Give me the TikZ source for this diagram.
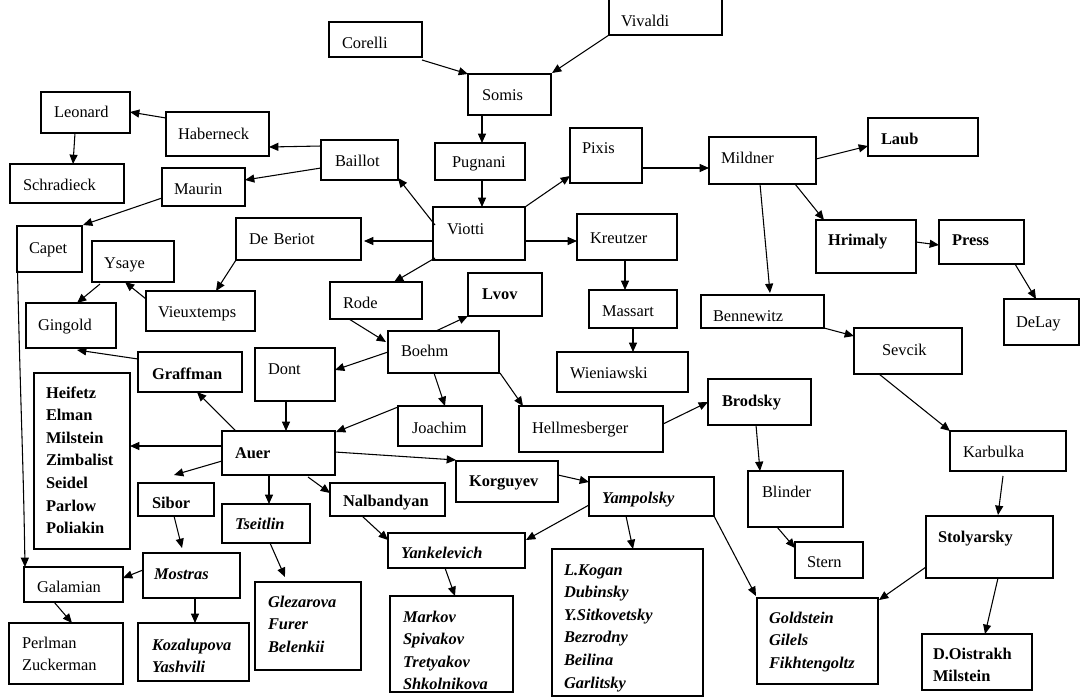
\documentclass[tikz,border=0pt]{standalone}
\usepackage{fontspec}
\setmainfont{Liberation Serif}
\usetikzlibrary{arrows.meta,calc}
\tikzset{
  box/.style={draw, line width=0.9pt, inner ysep=0pt, outer sep=0pt, align=left,
    minimum width=0pt, minimum height=0pt, font=\fontsize{12.3}{16.95}\selectfont},
  bf/.style={font=\fontsize{12.3}{16.95}\selectfont\bfseries},
  bi/.style={font=\fontsize{12.3}{16.95}\selectfont\bfseries\itshape},
  arr/.style={line width=0.8pt, -{Triangle[length=7pt,width=6pt]}}
}
% #1 style, #2 name, #3 x1, #4 y1, #5 x2, #6 y2, #7 text x, #8 first baseline, #9 text
\newcommand\bx[9][]{%
  \pgfmathsetlengthmacro\bxpad{((#7)-(#3))*0.75}%
  \pgfmathsetlengthmacro\bxtw{((#5)-(#3)-2*((#7)-(#3)))*0.75}%
  \pgfmathsetlengthmacro\bxth{((#8)-(#4))*0.75}%
  \pgfmathsetlengthmacro\bxtd{((#6)-(#8))*0.75}%
  \expandafter\def\csname bxx@#2\endcsname{#3}%
  \expandafter\def\csname bxy@#2\endcsname{#4}%
  \node[box,#1,anchor=north west,inner xsep=\bxpad,text width=\bxtw,
        text height=\bxth,text depth=\bxtd] (#2) at (#3,#4) {#9};%
}
% arrow from node #1 at pixel (#2,#3) to node #4 at pixel (#5,#6)
\newcommand\ar[6]{%
  \pgfmathsetmacro\arax{(#2)-(\csname bxx@#1\endcsname)}%
  \pgfmathsetmacro\aray{(#3)-(\csname bxy@#1\endcsname)}%
  \pgfmathsetmacro\arbx{(#5)-(\csname bxx@#4\endcsname)}%
  \pgfmathsetmacro\arby{(#6)-(\csname bxy@#4\endcsname)}%
  \draw[arr] ($(#1.north west)+(\arax,\aray)$) -- ($(#4.north west)+(\arbx,\arby)$);%
}
\begin{document}
\begin{tikzpicture}[x=0.75pt,y=-0.75pt]
\useasboundingbox (0,0) rectangle (1081,697);
% ---------- boxes ----------
\bx{corelli}{329}{22}{422}{57}{342}{48}{Corelli}
\bx{vivaldi}{609}{-10}{722}{35}{621}{26}{Vivaldi}
\bx{somis}{468}{74}{551}{115}{482}{100}{Somis}
\bx{pugnani}{435}{143}{525}{180}{452}{167}{Pugnani}
\bx{baillot}{321}{140}{398}{180}{335}{166}{Baillot}
\bx{pixis}{570}{128}{642}{183}{582}{153}{Pixis}
\bx{mildner}{709}{137}{816}{184}{721}{163}{Mildner}
\bx[bf]{laub}{868}{118}{978}{156}{881}{144}{Laub}
\bx{viotti}{433}{207}{525}{260}{447}{234}{Viotti}
\bx{deberiot}{236}{218}{361}{260}{249}{244}{De Beriot}
\bx{kreutzer}{577}{214}{677}{260}{590}{243}{Kreutzer}
\bx{leonard}{41}{92}{130}{133}{54}{117}{Leonard}
\bx{haberneck}{166}{112}{269}{156}{178}{139}{Haberneck}
\bx{schradieck}{10}{164}{124}{203}{23}{190}{Schradieck}
\bx{maurin}{162}{168}{245}{206}{174}{194}{Maurin}
\bx{capet}{17}{226}{82}{272}{29}{253}{Capet}
\bx{ysaye}{92}{241}{174}{282}{104}{268}{Ysaye}
\bx{vieuxtemps}{146}{291}{255}{331}{158}{317}{Vieuxtemps}
\bx{gingold}{26}{303}{116}{348}{38}{330}{Gingold}
\bx{rode}{330}{282}{422}{319}{343}{308}{Rode}
\bx[bf]{lvov}{468}{273}{542}{316}{482}{299}{Lvov}
\bx{massart}{589}{290}{677}{328}{602}{316}{Massart}
\bx{bennewitz}{701}{295}{824}{328}{713}{321}{Bennewitz}
\bx{boehm}{388}{331}{499}{373}{401}{356}{Boehm}
\bx{wieniawski}{557}{352}{688}{392}{570}{378}{Wieniawski}
\bx{sevcik}{854}{328}{962}{374}{882}{355}{Sevcik}
\bx[bf]{hrimaly}{816}{220}{916}{273}{828}{245}{Hrimaly}
\bx[bf]{press}{939}{220}{1024}{264}{952}{245}{Press}
\bx{delay}{1004}{299}{1079}{345}{1016}{327}{DeLay}
\bx[bf]{graffman}{138}{352}{242}{392}{152}{379}{Graffman}
\bx{dont}{255}{348}{335}{401}{268}{374}{Dont}
\bx[bf]{heifetz}{34}{373}{130}{549}{46}{398}{Heifetz\\Elman\\Milstein\\Zimbalist\\Seidel\\Parlow\\Poliakin}
\bx[bf]{auer}{222}{431}{335}{475}{235}{458}{Auer}
\bx{joachim}{398}{406}{482}{446}{412}{433}{Joachim}
\bx{hellmes}{519}{406}{663}{452}{532}{433}{Hellmesberger}
\bx[bf]{brodsky}{708}{379}{811}{425}{722}{406}{Brodsky}
\bx{karbulka}{950}{431}{1066}{471}{963}{457}{Karbulka}
\bx{blinder}{748}{471}{843}{527}{762}{497}{Blinder}
\bx{stern}{795}{542}{863}{578}{807}{567}{Stern}
\bx[bf]{stolyarsky}{926}{516}{1053}{578}{938}{542}{Stolyarsky}
\bx[bf]{sibor}{138}{483}{214}{516}{152}{508}{Sibor}
\bx[bi]{tseitlin}{222}{504}{310}{543}{235}{529}{Tseitlin}
\bx[bf]{nalbandyan}{330}{483}{445}{516}{343}{506}{Nalbandyan}
\bx[bf]{korguyev}{456}{461}{558}{502}{469}{486}{Korguyev}
\bx[bi]{yampolsky}{589}{477}{714}{516}{602}{503}{Yampolsky}
\bx[bi]{yankelevich}{388}{533}{525}{568}{401}{558}{Yankelevich}
\bx[bi]{mostras}{143}{553}{240}{598}{154}{579}{Mostras}
\bx{galamian}{24}{567}{123}{602}{37}{592}{Galamian}
\bx{perlman}{9}{623}{123}{684}{22}{648}{Perlman\\Zuckerman}
\bx[bi]{kozalupova}{138}{623}{249}{681}{152}{650}{Kozalupova\\Yashvili}
\bx[bi]{glezarova}{255}{582}{361}{670}{268}{607}{Glezarova\\Furer\\Belenkii}
\bx[bi]{markov}{390}{596}{513}{692}{403}{622}{Markov\\Spivakov\\Tretyakov\\Shkolnikova}
\bx[bi]{lkogan}{552}{549}{703}{696}{564}{575}{L.Kogan\\Dubinsky\\Y.Sitkovetsky\\Bezrodny\\Beilina\\Garlitsky}
\bx[bi]{goldstein}{757}{598}{878}{684}{769}{623}{Goldstein\\Gilels\\Fikhtengoltz}
\bx[bf]{oistrakh}{922}{634}{1032}{690}{933}{659}{D.Oistrakh\\Milstein}
% ---------- arrows ----------
\ar{corelli}{422}{60}{somis}{468}{74}
\ar{vivaldi}{609}{35}{somis}{552}{73}
\ar{somis}{482}{115}{pugnani}{482}{143}
\ar{pugnani}{482}{180}{viotti}{482}{207}
\ar{viotti}{435}{225}{baillot}{398}{178}
\ar{viotti}{525}{207}{pixis}{570}{176}
\ar{pixis}{642}{168}{mildner}{709}{168}
\ar{mildner}{816}{159}{laub}{868}{146}
\ar{mildner}{795}{184}{hrimaly}{824}{220}
\ar{mildner}{760}{184}{bennewitz}{770}{293}
\ar{hrimaly}{916}{242}{press}{939}{245}
\ar{press}{1015}{264}{delay}{1036}{299}
\ar{bennewitz}{824}{328}{sevcik}{854}{336}
\ar{sevcik}{879}{374}{karbulka}{950}{431}
\ar{karbulka}{1003}{476}{stolyarsky}{998}{515}
\ar{stolyarsky}{926}{567}{goldstein}{879}{600}
\ar{stolyarsky}{998}{578}{oistrakh}{985}{634}
\ar{yampolsky}{714}{516}{goldstein}{756}{596}
\ar{brodsky}{756}{425}{blinder}{760}{471}
\ar{blinder}{777}{527}{stern}{795}{548}
\ar{hellmes}{663}{424}{brodsky}{708}{402}
\ar{viotti}{433}{241}{deberiot}{364}{241}
\ar{viotti}{525}{241}{kreutzer}{577}{241}
\ar{viotti}{435}{258}{rode}{394}{282}
\ar{kreutzer}{625}{260}{massart}{625}{290}
\ar{massart}{633}{328}{wieniawski}{633}{352}
\ar{deberiot}{236}{260}{vieuxtemps}{216}{291}
\ar{vieuxtemps}{146}{299}{ysaye}{125}{282}
\ar{ysaye}{100}{284}{gingold}{77}{303}
\ar{graffman}{138}{359}{gingold}{77}{350}
\ar{maurin}{162}{198}{capet}{83}{225}
\ar{baillot}{321}{146}{haberneck}{269}{147}
\ar{baillot}{321}{168}{maurin}{245}{180}
\ar{haberneck}{166}{118}{leonard}{130}{112}
\ar{leonard}{75}{133}{schradieck}{73}{164}
\draw[arr] ($(capet.north west)+(0,24)$) .. controls ($(capet.north west)+(4,200)$) and ($(galamian.north west)+(-1,-120)$) .. ($(galamian.north west)+(1,0)$);
\ar{rode}{349}{319}{boehm}{386}{342}
\ar{boehm}{436}{331}{lvov}{468}{316}
\ar{boehm}{388}{352}{dont}{335}{370}
\ar{boehm}{434}{373}{joachim}{445}{406}
\ar{boehm}{500}{373}{hellmes}{523}{406}
\ar{joachim}{398}{407}{auer}{336}{432}
\ar{dont}{286}{401}{auer}{286}{431}
\ar{auer}{236}{431}{graffman}{197}{392}
\ar{auer}{222}{446}{heifetz}{130}{446}
\ar{auer}{222}{461}{sibor}{174}{475}
\ar{auer}{269}{475}{tseitlin}{269}{504}
\ar{auer}{308}{477}{nalbandyan}{330}{493}
\ar{auer}{335}{452}{korguyev}{456}{460}
\ar{korguyev}{558}{475}{yampolsky}{589}{482}
\ar{nalbandyan}{362}{516}{yankelevich}{388}{540}
\ar{yampolsky}{589}{505}{yankelevich}{526}{540}
\ar{yampolsky}{626}{516}{lkogan}{633}{549}
\ar{yankelevich}{445}{568}{markov}{455}{596}
\ar{sibor}{174}{516}{mostras}{182}{548}
\ar{tseitlin}{270}{543}{glezarova}{285}{577}
\ar{mostras}{143}{570}{galamian}{123}{578}
\ar{mostras}{195}{598}{kozalupova}{195}{623}
\ar{galamian}{54}{602}{perlman}{72}{623}
\end{tikzpicture}
\end{document}
